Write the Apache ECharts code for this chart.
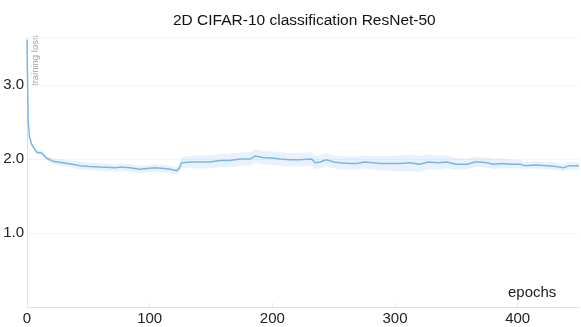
<!DOCTYPE html>
<html>
<head>
<meta charset="utf-8">
<script src="https://cdn.jsdelivr.net/npm/echarts@6/dist/echarts.min.js"></script>
<style>
  html, body { margin: 0; padding: 0; background: #fff; }
  #chart { width: 581px; height: 327px; }
</style>
</head>
<body>
<div id="chart"></div>
<script>
// training loss
const epochs = [0, 0.5, 1, 2, 4, 8, 12, 16, 21, 29, 37, 43, 51, 60, 72, 76, 84, 92, 104, 112, 117, 122, 124, 126, 133, 137, 149, 157, 165, 174, 182, 186, 192, 202, 206, 214, 222, 232, 235, 239, 244, 250, 255, 263, 269, 275, 282, 288, 296, 304, 312, 320, 327, 335, 342, 350, 359, 365, 369, 375, 380, 387, 394, 402, 406, 414, 424, 431, 437, 442, 450]
const lossMean = [3.61, 3.0, 2.5, 2.3, 2.19, 2.09, 2.08, 2.01, 1.97, 1.95, 1.93, 1.91, 1.9, 1.89, 1.88, 1.89, 1.88, 1.86, 1.88, 1.87, 1.86, 1.84, 1.87, 1.95, 1.96, 1.96, 1.96, 1.98, 1.98, 2.0, 2.0, 2.04, 2.02, 2.01, 2.0, 1.99, 1.99, 2.0, 1.95, 1.96, 1.99, 1.96, 1.95, 1.94, 1.94, 1.96, 1.95, 1.94, 1.94, 1.94, 1.95, 1.93, 1.96, 1.95, 1.96, 1.93, 1.93, 1.96, 1.96, 1.95, 1.93, 1.94, 1.93, 1.93, 1.91, 1.92, 1.91, 1.9, 1.88, 1.91, 1.91]
// half width of the shaded band
const lossSpread = [0.02, 0.02, 0.02, 0.02, 0.02, 0.02, 0.03, 0.03, 0.04, 0.04, 0.05, 0.05, 0.05, 0.05, 0.05, 0.05, 0.05, 0.05, 0.05, 0.05, 0.05, 0.05, 0.05, 0.08, 0.08, 0.09, 0.09, 0.09, 0.09, 0.09, 0.09, 0.09, 0.09, 0.09, 0.09, 0.09, 0.09, 0.09, 0.09, 0.09, 0.09, 0.09, 0.09, 0.09, 0.09, 0.09, 0.09, 0.1, 0.1, 0.11, 0.11, 0.11, 0.1, 0.1, 0.09, 0.08, 0.07, 0.07, 0.07, 0.07, 0.07, 0.07, 0.06, 0.06, 0.05, 0.05, 0.05, 0.05, 0.05, 0.05, 0.05]
const xTicks = { min: 0, max: 450, interval: 100 }
const yTicks = { min: 0, max: 3.64, interval: 1 }

const font = 'Liberation Sans'
const lineColor = '#7db5e8'
const bandColor = 'rgba(140,190,240,0.2)'

const mean = epochs.map((e, i) => [e, lossMean[i]])

// band polygon: upper edge left to right, lower edge back
function renderBand(params, api) {
  const pts = []
  epochs.forEach((e, i) => pts.push(api.coord([e, lossMean[i] + lossSpread[i]])))
  for (let i = epochs.length - 1; i >= 0; i--) {
    pts.push(api.coord([epochs[i], lossMean[i] - lossSpread[i]]))
  }
  return {
    type: 'polygon',
    shape: { points: pts },
    style: { fill: bandColor, stroke: 'none' },
    silent: true
  }
}

const myChart = echarts.init(document.getElementById('chart'))
myChart.setOption({
  animation: false,
  title: {
    text: '2D CIFAR-10 classification ResNet-50',
    left: 168,
    top: 8,
    textStyle: { fontFamily: font, fontSize: 15.5, fontWeight: 'normal', color: '#111' }
  },
  grid: { left: 27, right: 2, top: 37.6, bottom: 20 },
  xAxis: {
    type: 'value',
    min: xTicks.min,
    max: xTicks.max,
    interval: xTicks.interval,
    axisLine: { lineStyle: { color: '#e2e2e2', width: 1 } },
    axisTick: { show: true, inside: true, length: 4, lineStyle: { color: '#e6e6e6' } },
    splitLine: { show: false },
    axisLabel: {
      margin: 4,
      showMaxLabel: false,
      fontFamily: font, fontSize: 15, color: '#222',
      formatter: v => (v % 100 === 0 ? String(v) : '')
    }
  },
  yAxis: {
    type: 'value',
    min: yTicks.min,
    max: yTicks.max,
    interval: yTicks.interval,
    axisLine: { show: true, lineStyle: { color: '#e2e2e2', width: 1 } },
    axisTick: { show: false },
    splitLine: { show: true, lineStyle: { color: '#f4f4f4' } },
    axisLabel: {
      margin: 3,
      showMaxLabel: false,
      fontFamily: font, fontSize: 15, color: '#222',
      formatter: v => (v > 0 && Number.isInteger(v) ? v.toFixed(1) : '')
    }
  },
  graphic: [
    {
      type: 'text',
      x: 35, y: 86, rotation: Math.PI / 2,
      style: { text: 'training loss', fontFamily: font, fontSize: 9.5, fill: '#a0a0a0', align: 'left', verticalAlign: 'middle' }
    },
    {
      type: 'text',
      left: 508, top: 285,
      style: { text: 'epochs', fontFamily: font, fontSize: 15, fill: '#222' }
    }
  ],
  series: [
    {
      type: 'custom',
      data: [0],
      renderItem: renderBand,
      z: 1
    },
    {
      type: 'line', data: mean, symbol: 'none', z: 2,
      lineStyle: { color: lineColor, width: 1.5 }
    }
  ]
})
</script>
</body>
</html>
